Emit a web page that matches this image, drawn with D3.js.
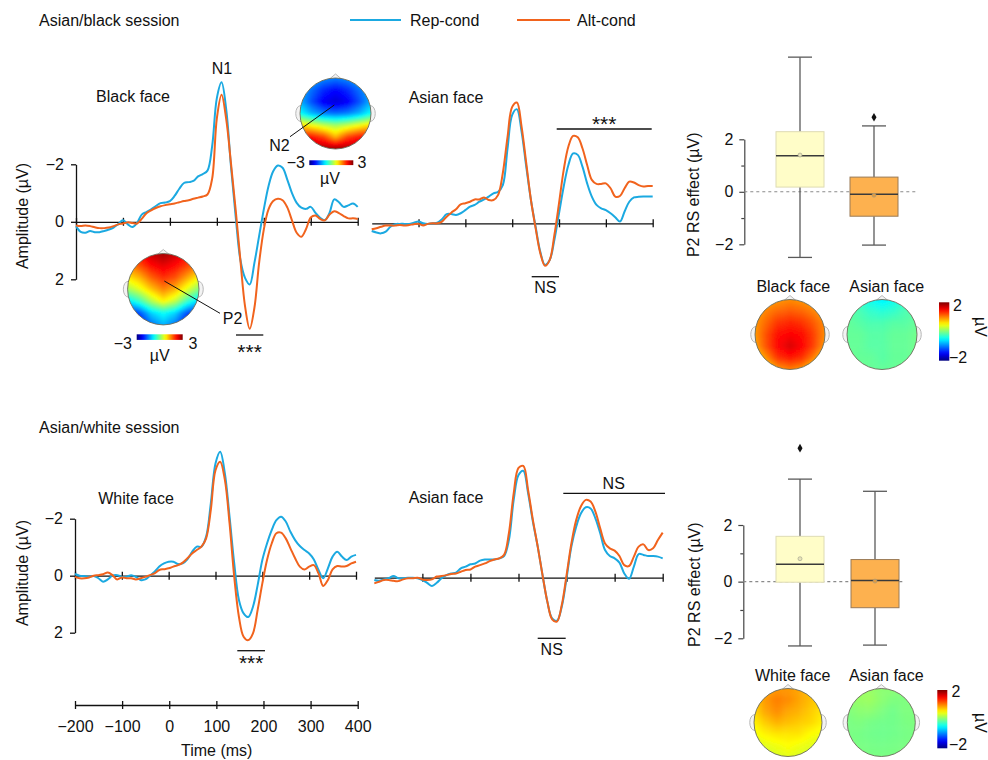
<!DOCTYPE html>
<html>
<head>
<meta charset="utf-8">
<script src="https://cdn.jsdelivr.net/npm/d3@7"></script>
<style>
  html, body { margin: 0; padding: 0; background: #fff; }
  svg { display: block; font-family: "Liberation Sans", Arial, Helvetica, sans-serif; }
</style>
</head>
<body>
<svg id="fig" width="988" height="760"></svg>
<script>
// ---------------- data ----------------
const times = [
  -200,-190,-180,-170,-160,-150,-140,-130,-120,-110,
  -100,-90,-80,-70,-60,-50,-40,-30,-20,-10,
  0,10,20,30,40,50,60,70,80,90,
  100,110,120,130,140,150,160,170,180,190,
  200,210,220,230,240,250,260,270,280,290,
  300,310,320,330,340,350,360,370,380,390,
  400];

// Asian/black session, black face (µV)
const blackRep = [
  0.15,0.35,0.38,0.32,0.36,0.36,0.32,0.27,0.2,0.08,
  -0.05,0.08,0.18,0.04,-0.25,-0.34,-0.43,-0.55,-0.65,-0.67,
  -0.72,-0.9,-1.15,-1.35,-1.38,-1.42,-1.58,-1.66,-1.78,-2.63,
  -4.3,-4.85,-3.9,-1.94,-0.2,1.31,1.95,2.18,1.43,0.5,
  -0.43,-1.24,-1.76,-1.96,-1.88,-1.47,-1.0,-0.66,-0.49,-0.45,
  -0.52,-0.31,-0.14,-0.06,-0.31,-0.78,-0.68,-0.52,-0.57,-0.64,
  -0.52];
const blackAlt = [
  0.13,0.15,0.13,0.15,0.19,0.22,0.22,0.2,0.15,0.09,
  0.06,0.02,0.04,0.06,-0.1,-0.3,-0.4,-0.48,-0.54,-0.58,
  -0.61,-0.64,-0.68,-0.72,-0.75,-0.8,-0.84,-0.88,-0.95,-1.5,
  -3.6,-4.42,-3.56,-2.05,-0.43,1.31,2.93,3.72,2.99,1.43,
  0.27,-0.43,-0.72,-0.8,-0.75,-0.5,-0.05,0.38,0.52,0.25,
  -0.15,-0.22,-0.1,-0.05,-0.25,-0.37,-0.3,-0.2,-0.12,-0.12,
  -0.1];

// Asian/black session, Asian face
const asianBRep = [
  0.27,0.32,0.35,0.29,0.12,0.03,0.02,0.02,0.02,-0.02,
  -0.06,0,0.02,0,-0.02,-0.14,-0.32,-0.32,-0.29,-0.35,
  -0.46,-0.58,-0.64,-0.75,-0.83,-0.93,-1.04,-1.1,-1.33,-2.6,
  -3.77,-3.97,-3.19,-1.97,-0.81,0.12,0.99,1.45,1.28,0.58,
  -0.35,-1.28,-2.03,-2.43,-2.38,-1.97,-1.39,-0.93,-0.64,-0.52,
  -0.46,-0.35,-0.21,-0.06,-0.41,-0.75,-0.9,-0.92,-0.93,-0.93,
  -0.93];
const asianBAlt = [
  0.21,0.17,0.12,0.08,0.08,0.08,0.06,0.08,0.06,0.03,
  0.02,0.08,0.02,0,0,-0.06,-0.23,-0.37,-0.49,-0.66,
  -0.7,-0.75,-0.83,-0.83,-0.9,-0.81,-0.81,-0.99,-1.75,-3.0,
  -4.05,-4.2,-3.36,-2.09,-0.81,0.17,1.04,1.48,1.28,0.41,
  -0.7,-1.86,-2.67,-3.04,-2.99,-2.61,-2.03,-1.51,-1.37,-1.37,
  -1.39,-1.22,-0.93,-0.95,-1.22,-1.45,-1.42,-1.33,-1.28,-1.3,
  -1.3];

// Asian/white session, white face
const whiteRep = [
  -0.06,0,0.01,0.04,0.01,0.09,0.21,0.13,0,-0.02,
  0.04,0.04,-0.02,0.04,0.15,0.13,0,-0.14,-0.32,-0.43,
  -0.49,-0.49,-0.41,-0.43,-0.57,-0.84,-1.02,-1.02,-1.37,-2.54,
  -3.94,-4.35,-3.59,-2.07,-0.43,0.85,1.32,1.45,1.09,0.33,
  -0.55,-1.13,-1.6,-1.95,-2.07,-1.9,-1.54,-1.25,-1.04,-0.9,
  -0.78,-0.57,-0.2,0.09,-0.26,-0.67,-0.84,-0.67,-0.55,-0.67,
  -0.73];
const whiteAlt = [
  0.04,0.09,0.09,0.06,0,-0.02,-0.05,-0.11,-0.02,0.13,
  0.06,0.09,0.09,0.13,0.09,0.04,-0.02,-0.08,-0.2,-0.23,
  -0.26,-0.32,-0.37,-0.46,-0.61,-0.78,-0.9,-1.02,-1.31,-2.31,
  -3.7,-4.0,-3.36,-1.84,0.04,1.44,2.14,2.26,2.02,1.2,
  0.27,-0.55,-1.13,-1.49,-1.51,-1.31,-0.96,-0.61,-0.32,-0.22,
  -0.32,-0.37,-0.08,0.36,0.15,-0.22,-0.34,-0.32,-0.34,-0.43,
  -0.49];

// Asian/white session, Asian face
const asianWRep = [
  0.08,0.11,0.06,0.02,-0.06,0.02,0.02,0,0,0.02,
  0.08,0.18,0.29,0.18,0.02,-0.09,-0.15,-0.18,-0.33,-0.39,
  -0.47,-0.5,-0.6,-0.64,-0.64,-0.64,-0.68,-0.76,-1.32,-2.73,
  -3.6,-3.75,-2.96,-1.96,-1.09,-0.09,0.84,1.43,1.51,1.02,
  0.02,-1.09,-1.79,-2.26,-2.47,-2.43,-2.08,-1.56,-0.97,-0.76,
  -0.68,-0.53,-0.15,0.04,-0.39,-0.83,-0.8,-0.76,-0.76,-0.74,
  -0.68];
const asianWAlt = [
  0.2,0.14,0.08,0.08,0.11,0.12,0.06,0.02,0.02,0,
  0.06,0.08,0.06,-0.04,-0.06,-0.09,-0.13,-0.15,-0.21,-0.27,
  -0.29,-0.39,-0.44,-0.5,-0.58,-0.64,-0.68,-0.8,-1.56,-2.96,
  -3.85,-3.92,-3.07,-2.02,-1.09,-0.09,0.84,1.46,1.54,0.96,
  -0.09,-1.2,-2.02,-2.51,-2.73,-2.67,-2.32,-1.73,-1.2,-1.03,
  -0.95,-0.76,-0.44,-0.41,-0.74,-1.09,-1.17,-0.97,-1.03,-1.32,
  -1.58];

const amplitudeTicks = [-2, 0, 2];
const timeTicks = [-200, -100, 0, 100, 200, 300, 400];
const innerTimeTicks = [-100, 0, 100, 200, 300, 400];
const effectTicks = [-2, -1, 0, 1, 2];

// P2 repetition-suppression effect: [lower whisker, Q1, median, Q3, upper whisker]
const blackSessionGroups = ["Black face", "Asian face"];
const blackSessionBoxes = [[-2.5, 0.18, 1.37, 2.29, 5.13], [-2.03, -0.93, -0.09, 0.56, 2.51]];
const blackSessionMeans = [1.4, -0.13];
const blackSessionOutliers = [[], [2.84]];

const whiteSessionGroups = ["White face", "Asian face"];
const whiteSessionBoxes = [[-2.27, -0.02, 0.61, 1.6, 3.62], [-2.24, -0.92, 0.04, 0.78, 3.19]];
const whiteSessionMeans = [0.81, 0.02];
const whiteSessionOutliers = [[4.71], []];

// Scalp maps: 7 x 7 grids of amplitude (µV), rows front -> back, columns left -> right
const n2Map = [
  [-1.0,-1.2,-1.4,-1.5,-1.4,-1.2,-1.0],
  [-1.2,-1.6,-2.0,-2.2,-2.0,-1.6,-1.2],
  [-1.2,-1.8,-2.3,-2.5,-2.3,-1.8,-1.2],
  [-0.7,-1.2,-1.5,-1.6,-1.5,-1.2,-0.7],
  [ 1.0, 0.7, 0.4, 0.2, 0.4, 0.7, 1.0],
  [ 2.3, 2.2, 1.9, 1.2, 1.9, 2.2, 2.3],
  [ 2.6, 2.7, 2.8, 2.9, 2.8, 2.7, 2.6]];
const p2Map = [
  [ 1.8, 2.2, 2.6, 2.8, 2.6, 2.2, 1.8],
  [ 1.4, 1.8, 2.2, 2.4, 2.2, 1.9, 1.5],
  [ 0.9, 1.2, 1.7, 2.0, 1.8, 1.3, 0.8],
  [ 0.2, 0.6, 1.1, 1.5, 1.2, 0.6, 0.0],
  [-0.9,-0.4, 0.3, 0.8, 0.4,-0.4,-1.0],
  [-2.2,-1.8,-1.0,-0.7,-1.0,-1.8,-2.2],
  [-2.5,-2.3,-1.6,-1.2,-1.6,-2.3,-2.5]];
const blackFaceMap = [
  [0.8,0.85,0.9,0.95,0.9,0.85,0.8],
  [0.85,1.0,1.1,1.15,1.1,1.0,0.85],
  [0.9,1.1,1.3,1.35,1.3,1.15,0.95],
  [0.9,1.2,1.45,1.5,1.45,1.25,0.95],
  [0.85,1.2,1.5,1.65,1.5,1.25,0.9],
  [0.6,0.95,1.3,1.4,1.3,1.0,0.65],
  [0.3,0.6,0.9,1.0,0.9,0.6,0.35]];
const asianFaceMapB = [
  [-0.2,-0.3,-0.45,-0.55,-0.45,-0.3,-0.2],
  [-0.15,-0.2,-0.3,-0.35,-0.3,-0.2,-0.15],
  [-0.1,-0.15,-0.2,-0.2,-0.15,-0.15,-0.1],
  [-0.1,-0.1,-0.15,-0.15,-0.1,-0.1,-0.05],
  [-0.1,-0.1,-0.15,-0.15,-0.1,-0.1,-0.05],
  [-0.05,-0.1,-0.1,-0.15,-0.1,-0.1,-0.05],
  [-0.05,-0.05,-0.1,-0.1,-0.1,-0.05,-0.05]];
const whiteFaceMap = [
  [0.7,0.85,0.9,0.9,0.85,0.75,0.65],
  [0.7,0.9,1.0,0.95,0.85,0.75,0.65],
  [0.65,0.85,0.95,0.85,0.8,0.7,0.6],
  [0.55,0.7,0.8,0.75,0.7,0.65,0.55],
  [0.45,0.55,0.6,0.6,0.6,0.5,0.45],
  [0.35,0.4,0.45,0.5,0.45,0.4,0.35],
  [0.3,0.3,0.35,0.4,0.35,0.3,0.3]];
const asianFaceMapW = [
  [0.05,0.1,0.1,0.05,0.05,0.0,0.0],
  [0.05,0.1,0.12,0.05,0.0,0.0,0.0],
  [0.0,0.05,0.05,0.0,-0.05,0.0,0.0],
  [-0.02,0.0,-0.03,-0.05,-0.05,-0.02,0.0],
  [-0.02,-0.03,-0.05,-0.06,-0.05,-0.03,-0.02],
  [0.0,-0.02,-0.03,-0.04,-0.03,-0.02,0.0],
  [0.0,0.0,-0.02,-0.02,-0.02,0.0,0.0]];

// ---------------- drawing ----------------
const BLUE = "#1ba9e1";
const ORANGE = "#f1631d";
const svg = d3.select("#fig");
svg.append("rect").attr("width", 988).attr("height", 760).attr("fill", "#fff");
const defs = svg.append("defs");
const intFmt = d3.format("d");

const jet = d3.scaleLinear()
  .domain([0, 0.125, 0.375, 0.625, 0.875, 1])
  .range(["#00007f", "#0000ff", "#00ffff", "#ffff00", "#ff0000", "#7f0000"])
  .clamp(true);

defs.append("filter").attr("id", "soften")
  .append("feGaussianBlur").attr("stdDeviation", 1.3);

function text(x, y, str, opts = {}) {
  const t = svg.append("text")
    .attr("x", x).attr("y", y)
    .attr("font-size", opts.size || 16)
    .attr("text-anchor", opts.anchor || "start")
    .attr("fill", "#111")
    .text(str);
  if (opts.rotate) t.attr("transform", `rotate(${opts.rotate},${x},${y})`);
  return t;
}

function line(x1, y1, x2, y2, w = 1.3, color = "#111") {
  svg.append("line").attr("x1", x1).attr("y1", y1).attr("x2", x2).attr("y2", y2)
    .attr("stroke", color).attr("stroke-width", w);
}

// ---- ERP panels ----
function erpPanel(o) {
  const x = d3.scaleLinear().domain([-200, 400]).range([o.x0, o.x1]);
  const y = d3.scaleLinear().domain([-2, 2]).range([o.yTop, o.yBot]);
  const g = svg.append("g");

  const gx = g.append("g")
    .attr("transform", `translate(0,${y(0)})`)
    .call(d3.axisBottom(x).tickValues(o.ticks).tickSize(4).tickSizeOuter(0).tickFormat(""));
  gx.selectAll(".tick line").attr("y1", -4).attr("stroke-width", 1.3).attr("stroke", "#111");
  gx.select(".domain").attr("stroke-width", 1.3).attr("stroke", "#111");

  if (o.yAxis) {
    const gy = g.append("g")
      .attr("transform", `translate(${x(-200)},0)`)
      .call(d3.axisLeft(y).tickValues(amplitudeTicks).tickFormat(intFmt)
        .tickSize(5).tickPadding(7).tickSizeOuter(0));
    gy.attr("font-size", 16).attr("font-family", null);
    gy.selectAll("line, path").attr("stroke", "#111").attr("stroke-width", 1.3);
    gy.selectAll("text").attr("fill", "#111");
  }

  const path = d3.line()
    .x((d, i) => x(times[i]))
    .y(d => y(d))
    .curve(d3.curveCatmullRom.alpha(0.5));
  g.append("path").datum(o.rep).attr("d", path)
    .attr("fill", "none").attr("stroke", BLUE).attr("stroke-width", 2);
  g.append("path").datum(o.alt).attr("d", path)
    .attr("fill", "none").attr("stroke", ORANGE).attr("stroke-width", 2);
  return { x, y };
}

// ---- scalp maps ----
function sampleGrid(grid, u, v) {
  const n = grid.length, m = grid[0].length;
  const gx = Math.max(0, Math.min(m - 1, (u + 1) / 2 * (m - 1)));
  const gy = Math.max(0, Math.min(n - 1, (v + 1) / 2 * (n - 1)));
  const x0 = Math.floor(gx), y0 = Math.floor(gy);
  const x1 = Math.min(m - 1, x0 + 1), y1 = Math.min(n - 1, y0 + 1);
  const fx = gx - x0, fy = gy - y0;
  const top = grid[y0][x0] * (1 - fx) + grid[y0][x1] * fx;
  const bot = grid[y1][x0] * (1 - fx) + grid[y1][x1] * fx;
  return top * (1 - fy) + bot * fy;
}

let headCount = 0;
function topomap(cx, cy, r, grid, range) {
  const id = "head" + (headCount++);
  defs.append("clipPath").attr("id", id)
    .append("circle").attr("cx", cx).attr("cy", cy).attr("r", r);
  const g = svg.append("g");
  // ears and nose
  [-1, 1].forEach(side => {
    const ex = cx + side * (r - 1);
    g.append("path")
      .attr("d", `M${ex},${cy - 8} C${ex + side * 7},${cy - 8} ${ex + side * 7},${cy + 8} ${ex},${cy + 8}`)
      .attr("fill", "#f3f3f3").attr("stroke", "#b8b8b8").attr("stroke-width", 1);
  });
  g.append("path")
    .attr("d", `M${cx - 6},${cy - r + 1} L${cx},${cy - r - 4} L${cx + 6},${cy - r + 1}`)
    .attr("fill", "#f3f3f3").attr("stroke", "#b8b8b8").attr("stroke-width", 1);

  const N = 36, s = 2 * r / N;
  const cells = [];
  for (let i = -1; i <= N; i++) {
    for (let j = -1; j <= N; j++) {
      const u = ((j + 0.5) * s - r) / r;
      const v = ((i + 0.5) * s - r) / r;
      cells.push({ x: cx - r + j * s, y: cy - r + i * s, val: sampleGrid(grid, u, v) });
    }
  }
  const norm = d3.scaleLinear().domain(range).range([0, 1]);
  g.append("g").attr("clip-path", `url(#${id})`)
    .append("g").attr("filter", "url(#soften)")
    .selectAll("rect").data(cells).join("rect")
    .attr("x", d => d.x).attr("y", d => d.y)
    .attr("width", s + 0.6).attr("height", s + 0.6)
    .attr("fill", d => jet(norm(d.val)));
  g.append("circle").attr("cx", cx).attr("cy", cy).attr("r", r)
    .attr("fill", "none").attr("stroke", "#6b6b5a").attr("stroke-width", 0.9);
}

function jetGradient(id, vertical) {
  const grad = defs.append("linearGradient").attr("id", id)
    .attr("x1", 0).attr("y1", vertical ? 1 : 0)
    .attr("x2", vertical ? 0 : 1).attr("y2", 0);
  d3.range(0, 1.0001, 0.05).forEach(t => {
    grad.append("stop").attr("offset", t).attr("stop-color", jet(t));
  });
}
jetGradient("jetH", false);
jetGradient("jetV", true);

// ---------------- top row: Asian/black session ----------------
text(39, 26, "Asian/black session");

// legend
line(350, 20, 401, 20, 2, BLUE);
text(410, 25.5, "Rep-cond");
line(517, 20, 570, 20, 2, ORANGE);
text(577, 25.5, "Alt-cond");

erpPanel({ x0: 76, x1: 357.7, yTop: 164.3, yBot: 279.3, ticks: timeTicks, yAxis: true, rep: blackRep, alt: blackAlt });
erpPanel({ x0: 371.7, x1: 652.7, yTop: 165.8, yBot: 280.8, ticks: innerTimeTicks, yAxis: false, rep: asianBRep, alt: asianBAlt });

text(28, 216, "Amplitude (µV)", { anchor: "middle", rotate: -90 });
text(133, 101.7, "Black face", { anchor: "middle" });
text(446, 102.5, "Asian face", { anchor: "middle" });
text(222, 74, "N1", { anchor: "middle" });

// N2 scalp map with its leader line and colour bar
topomap(335.5, 113.5, 35.5, n2Map, [-3, 3]);
line(334.3, 105, 290, 136.7, 1, "#111");
text(279.5, 150.5, "N2", { anchor: "middle" });
svg.append("rect").attr("x", 309.3).attr("y", 160.3).attr("width", 44).attr("height", 4.8).attr("fill", "url(#jetH)");
text(305, 168, "\u22123", { anchor: "end" });
text(357.5, 168, "3");
text(330, 184, "µV", { anchor: "middle" });

// P2 scalp map
topomap(163.3, 289.2, 35.7, p2Map, [-3, 3]);
line(164.3, 281, 220, 313.3, 1, "#111");
text(232.5, 323.5, "P2", { anchor: "middle" });
svg.append("rect").attr("x", 136.7).attr("y", 334.3).attr("width", 46).attr("height", 5.6).attr("fill", "url(#jetH)");
text(132, 348.5, "\u22123", { anchor: "end" });
text(188.5, 348.5, "3");
text(159.7, 361, "µV", { anchor: "middle" });

// significance marks
line(236, 335, 263.3, 335, 1.3);
text(249.6, 359, "***", { anchor: "middle", size: 21 });
line(556.7, 129, 651.7, 129, 1.3);
text(604.2, 131, "***", { anchor: "middle", size: 21 });
line(531.7, 276.7, 559, 276.7, 1.3);
text(545.3, 293.3, "NS", { anchor: "middle" });

// ---------------- bottom row: Asian/white session ----------------
text(39, 432.5, "Asian/white session");

erpPanel({ x0: 75, x1: 356, yTop: 518.7, yBot: 632.7, ticks: timeTicks, yAxis: true, rep: whiteRep, alt: whiteAlt });
erpPanel({ x0: 374.3, x1: 662.7, yTop: 520.7, yBot: 634.7, ticks: innerTimeTicks, yAxis: false, rep: asianWRep, alt: asianWAlt });

text(28, 573, "Amplitude (µV)", { anchor: "middle", rotate: -90 });
text(136, 503.5, "White face", { anchor: "middle" });
text(446, 502.5, "Asian face", { anchor: "middle" });

line(237.3, 650.7, 265, 650.7, 1.3);
text(251.2, 670, "***", { anchor: "middle", size: 21 });
line(563.3, 493.3, 665, 493.3, 1.3);
text(613.7, 489, "NS", { anchor: "middle" });
line(537.7, 638.3, 565.7, 638.3, 1.3);
text(551.7, 655, "NS", { anchor: "middle" });

// shared time axis
{
  const x = d3.scaleLinear().domain([-200, 400]).range([75, 357.7]);
  const ga = svg.append("g").attr("transform", "translate(0,705)")
    .call(d3.axisBottom(x).tickValues(timeTicks).tickFormat(intFmt)
      .tickSize(4).tickSizeOuter(0).tickPadding(12));
  ga.attr("font-size", 16).attr("font-family", null);
  ga.selectAll(".tick line").attr("y1", -4).attr("stroke", "#111").attr("stroke-width", 1.3);
  ga.select(".domain").attr("stroke", "#111").attr("stroke-width", 1.3);
  ga.selectAll("text").attr("fill", "#111");
  text(216.7, 756, "Time (ms)", { anchor: "middle" });
}

// ---------------- box plots ----------------
function boxPanel(o) {
  const y = d3.scaleLinear().domain([-2, 2]).range([o.yBot, o.yTop]);
  const x = d3.scalePoint().domain(o.groups).range([o.c0, o.c1]);
  const g = svg.append("g");
  const ga = g.append("g").attr("transform", `translate(${o.axisX},0)`)
    .call(d3.axisLeft(y).tickValues(effectTicks).tickSize(5).tickPadding(6).tickSizeOuter(0)
      .tickFormat(d => d % 2 === 0 ? intFmt(d) : ""));
  ga.attr("font-size", 16).attr("font-family", null);
  ga.selectAll("line, path").attr("stroke", "#444").attr("stroke-width", 1.2);
  ga.selectAll(".tick").filter(d => d % 2 !== 0).select("line").attr("x2", -3);
  ga.selectAll("text").attr("fill", "#111");

  g.append("line").attr("x1", o.axisX).attr("x2", o.zeroEnd)
    .attr("y1", y(0)).attr("y2", y(0))
    .attr("stroke", "#8a8a8a").attr("stroke-width", 1.1).attr("stroke-dasharray", "3,3");

  const bw = 48, cap = 24;
  o.groups.forEach((grp, i) => {
    const [lo, q1, med, q3, hi] = o.boxes[i];
    const cx = x(grp);
    const st = o.styles[i];
    g.append("line").attr("x1", cx).attr("x2", cx).attr("y1", y(hi)).attr("y2", y(q3))
      .attr("stroke", "#5a5a5a").attr("stroke-width", 1.3);
    g.append("line").attr("x1", cx).attr("x2", cx).attr("y1", y(q1)).attr("y2", y(lo))
      .attr("stroke", "#5a5a5a").attr("stroke-width", 1.3);
    [lo, hi].forEach(v => g.append("line")
      .attr("x1", cx - cap / 2).attr("x2", cx + cap / 2).attr("y1", y(v)).attr("y2", y(v))
      .attr("stroke", "#5a5a5a").attr("stroke-width", 1.3));
    g.append("rect").attr("x", cx - bw / 2).attr("width", bw)
      .attr("y", y(q3)).attr("height", y(q1) - y(q3))
      .attr("fill", st.fill).attr("stroke", st.stroke).attr("stroke-width", 1);
    g.append("line").attr("x1", cx - bw / 2).attr("x2", cx + bw / 2).attr("y1", y(med)).attr("y2", y(med))
      .attr("stroke", "#3a3a3a").attr("stroke-width", 1.5);
    g.append("circle").attr("cx", cx).attr("cy", y(o.means[i])).attr("r", 2)
      .attr("fill", st.mean).attr("stroke", "#9a9a8a").attr("stroke-width", 0.6);
    o.outliers[i].forEach(v => g.append("path")
      .attr("d", d3.symbol(d3.symbolDiamond, 22)())
      .attr("transform", `translate(${cx},${y(v)})`).attr("fill", "#111"));
  });
  text(o.labelX, (o.yTop + o.yBot) / 2 + 3, "P2 RS effect (µV)", { anchor: "middle", rotate: -90 });
}

const boxStyles = [
  { fill: "#fffdc8", stroke: "#dedbb4", mean: "#e8e4b8" },
  { fill: "#fdb14f", stroke: "#9a7a56", mean: "#e09a40" }];

boxPanel({ groups: blackSessionGroups, boxes: blackSessionBoxes, means: blackSessionMeans,
  outliers: blackSessionOutliers, styles: boxStyles,
  yTop: 139.3, yBot: 244.3, axisX: 744.3, c0: 800, c1: 874, zeroEnd: 917, labelX: 699 });
boxPanel({ groups: whiteSessionGroups, boxes: whiteSessionBoxes, means: whiteSessionMeans,
  outliers: whiteSessionOutliers, styles: boxStyles,
  yTop: 525, yBot: 638.3, axisX: 743.3, c0: 800, c1: 875, zeroEnd: 905, labelX: 700 });

// ---------------- P2 effect scalp maps ----------------
text(793.3, 291.7, "Black face", { anchor: "middle" });
text(886.7, 291.7, "Asian face", { anchor: "middle" });
topomap(790, 334.5, 35, blackFaceMap, [-2, 2]);
topomap(882, 334.5, 35, asianFaceMapB, [-2, 2]);
svg.append("rect").attr("x", 939).attr("y", 302.3).attr("width", 10.3).attr("height", 58.4).attr("fill", "url(#jetV)");
text(953, 311, "2");
text(949, 363, "\u22122");
text(974.5, 327, "µV", { anchor: "middle", rotate: 90 });

text(792.7, 680.7, "White face", { anchor: "middle" });
text(886.3, 680.7, "Asian face", { anchor: "middle" });
topomap(788, 722.5, 34, whiteFaceMap, [-2, 2]);
topomap(881.3, 722.5, 34, asianFaceMapW, [-2, 2]);
svg.append("rect").attr("x", 937.3).attr("y", 690).attr("width", 10).attr("height", 58.3).attr("fill", "url(#jetV)");
text(951.5, 696.5, "2");
text(949, 750, "\u22122");
text(974.5, 723, "µV", { anchor: "middle", rotate: 90 });
</script>
</body>
</html>
